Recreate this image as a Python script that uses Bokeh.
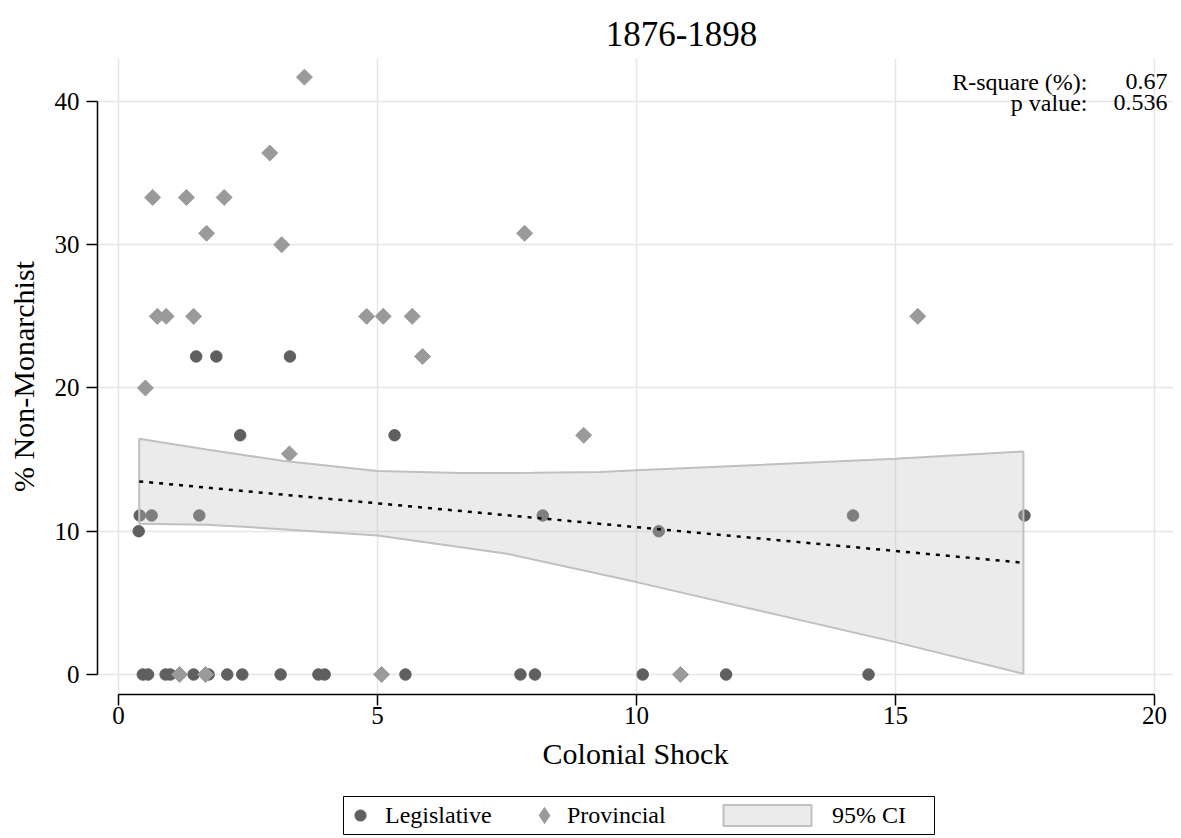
import numpy as np
from bokeh.plotting import figure
from bokeh.layouts import column
from bokeh.models import (Legend, LegendItem, Label, BoxAnnotation, FixedTicker, Range1d)
from bokeh.embed import file_html
from bokeh.resources import INLINE

# ---------------- data ----------------
leg_x = [0.39, 0.41, 0.64, 1.56, 1.50, 1.89, 3.31, 2.35, 5.33, 8.19, 10.43, 14.18, 17.49,
         0.47, 0.57, 0.91, 1.00, 1.45, 1.74, 2.10, 2.39, 3.13, 3.86, 3.98, 5.54, 7.76,
         8.04, 10.12, 11.73, 14.48]
leg_y = [10.0, 11.1, 11.1, 11.1, 22.2, 22.2, 22.2, 16.7, 16.7, 11.1, 10.0, 11.1, 11.1,
         0.0, 0.0, 0.0, 0.0, 0.0, 0.0, 0.0, 0.0, 0.0, 0.0, 0.0, 0.0, 0.0,
         0.0, 0.0, 0.0, 0.0]

prov_x = [3.59, 2.92, 0.66, 1.31, 2.04, 1.70, 3.15, 7.84, 0.75, 0.92, 1.45, 4.79, 5.11,
          5.67, 15.43, 5.87, 0.52, 3.30, 8.98, 1.18, 1.68, 5.08, 10.85]
prov_y = [41.7, 36.4, 33.3, 33.3, 33.3, 30.8, 30.0, 30.8, 25.0, 25.0, 25.0, 25.0, 25.0,
          25.0, 25.0, 22.2, 20.0, 15.4, 16.7, 0.0, 0.0, 0.0, 0.0]

fit_x = [0.40, 17.47]
fit_y = [13.48, 7.80]

ci_upper_x = [0.40, 1.70, 3.20, 5.00, 6.60, 8.00, 9.30, 10.00, 15.00, 17.47]
ci_upper_y = [16.46, 15.70, 14.90, 14.20, 14.06, 14.08, 14.13, 14.25, 15.06, 15.57]
ci_lower_x = [0.40, 1.70, 2.50, 5.00, 7.50, 10.00, 15.00, 17.47]
ci_lower_y = [10.52, 10.45, 10.29, 9.71, 8.43, 6.45, 2.26, 0.05]

x_ticks = [0, 5, 10, 15, 20]
y_ticks = [0, 10, 20, 30, 40]

title_text = "1876-1898"
x_title = "Colonial Shock"
y_title = "% Non-Monarchist"
stat_names = ["R-square (%):", "p value:"]
stat_values = ["0.67", "0.536"]
series_names = ["Legislative", "Provincial", "95% CI"]

# ---------------- styling ----------------
FONT = "Liberation Serif"
DARK = "#5f5f5f"
LIGHT = "#9a9a9a"
BAND_FILL = "#c2c2c2"
BAND_LINE = "#c0c0c0"
W = 1181


def strip(height):
    f = figure(width=W, height=height, x_range=Range1d(0, 1), y_range=Range1d(0, 1),
               x_axis_type=None, y_axis_type=None, output_backend="svg",
               toolbar_location=None, title=None, min_border_left=97, min_border_right=8,
               min_border_top=0, min_border_bottom=0)
    f.outline_line_color = None
    f.background_fill_color = "white"
    f.border_fill_color = "white"
    f.grid.visible = False
    return f


# ---------------- title strip ----------------
tf = strip(58)
tf.add_layout(Label(x=584, y=25, x_units="screen", y_units="screen", text=title_text,
                    text_font=FONT, text_font_size="35px", text_align="center",
                    text_baseline="alphabetic", text_color="black"))

# ---------------- main plot ----------------
p = figure(width=W, height=726, title=None,
           x_range=Range1d(-0.405, 20.367), y_range=Range1d(-1.396, 43.0),
           output_backend="svg", toolbar_location=None,
           min_border_left=97, min_border_right=8, min_border_top=0, min_border_bottom=90)
p.outline_line_color = None
p.background_fill_color = "white"
p.border_fill_color = "white"

p.xaxis.ticker = FixedTicker(ticks=x_ticks)
p.yaxis.ticker = FixedTicker(ticks=y_ticks)
p.xaxis.bounds = (x_ticks[0], x_ticks[-1])
p.yaxis.bounds = (y_ticks[0], y_ticks[-1])
for ax in (p.xaxis[0], p.yaxis[0]):
    ax.axis_line_width = 1.5
    ax.axis_line_color = "black"
    ax.major_tick_line_width = 1.5
    ax.major_tick_line_color = "black"
    ax.major_tick_out = 11
    ax.major_tick_in = 0
    ax.minor_tick_out = 0
    ax.minor_tick_in = 0
    ax.major_label_text_font = FONT
    ax.major_label_text_font_size = "25px"
    ax.major_label_text_color = "black"
    ax.axis_label_text_font = FONT
    ax.axis_label_text_font_size = "30px"
    ax.axis_label_text_font_style = "normal"
    ax.axis_label_text_color = "black"
p.xaxis.axis_label = x_title
p.yaxis.axis_label = y_title
p.xaxis.major_label_standoff = 1
p.xaxis.axis_label_standoff = 10
p.yaxis.major_label_standoff = 7
p.yaxis.axis_label_standoff = 12

p.xgrid.ticker = FixedTicker(ticks=x_ticks)
p.ygrid.ticker = FixedTicker(ticks=y_ticks)
for g in (p.xgrid[0], p.ygrid[0]):
    g.grid_line_color = "#e6e6e6"
    g.grid_line_width = 1.5

p.scatter(leg_x, leg_y, marker="circle", size=11.5, fill_color=DARK, line_color=DARK)
p.scatter(prov_x, prov_y, marker="square", angle=np.pi / 4, size=11.3,
          fill_color=LIGHT, line_color=LIGHT)
band_x = ci_upper_x + ci_lower_x[::-1]
band_y = ci_upper_y + ci_lower_y[::-1]
p.patch(band_x, band_y, fill_color=BAND_FILL, fill_alpha=0.33,
        line_color=BAND_LINE, line_width=2)
p.line(fit_x, fit_y, line_color="black", line_width=2.5, line_dash="4 6")

for i, (nm, vl) in enumerate(zip(stat_names, stat_values)):
    yy = 613 - 21 * i
    p.add_layout(Label(x=990, y=yy, x_units="screen", y_units="screen", text=nm,
                       text_font=FONT, text_font_size="24px", text_align="right",
                       text_baseline="alphabetic", text_color="black"))
    p.add_layout(Label(x=1070, y=yy, x_units="screen", y_units="screen", text=vl,
                       text_font=FONT, text_font_size="24px", text_align="right",
                       text_baseline="alphabetic", text_color="black"))

# ---------------- legend strip ----------------
lf = strip(54)
e_leg = lf.scatter([np.nan], [np.nan], marker="circle", size=11.5,
                   fill_color=DARK, line_color=DARK)
e_prov = lf.scatter([np.nan], [np.nan], marker="diamond", size=16,
                    fill_color=LIGHT, line_color=LIGHT)
e_ci = lf.patch([np.nan], [np.nan], fill_color=BAND_FILL, fill_alpha=0.33,
                line_color=BAND_LINE, line_width=2)

lf.add_layout(BoxAnnotation(left=246, right=837, top=42, bottom=4,
                            left_units="screen", right_units="screen",
                            top_units="screen", bottom_units="screen",
                            fill_alpha=0, line_color="black", line_width=1, line_alpha=1))


def legend(name, rend, loc, gw, gh, lh, standoff):
    return Legend(items=[LegendItem(label=name, renderers=[rend])],
                  location=loc, orientation="horizontal",
                  glyph_width=gw, glyph_height=gh, label_height=lh,
                  label_standoff=standoff, padding=0, margin=0,
                  border_line_color=None, background_fill_alpha=0,
                  label_text_font=FONT, label_text_font_size="24px",
                  label_text_color="black")


lf.add_layout(legend(series_names[0], e_leg, (249, 9), 28, 28, 28, 11))
lf.add_layout(legend(series_names[1], e_prov, (427, 3), 40, 40, 40, 3))
lf.add_layout(legend(series_names[2], e_ci, (615, 9), 110, 26, 28, 10))

layout = column(tf, p, lf, spacing=0)
open("out.html", "w").write(file_html(layout, INLINE))
